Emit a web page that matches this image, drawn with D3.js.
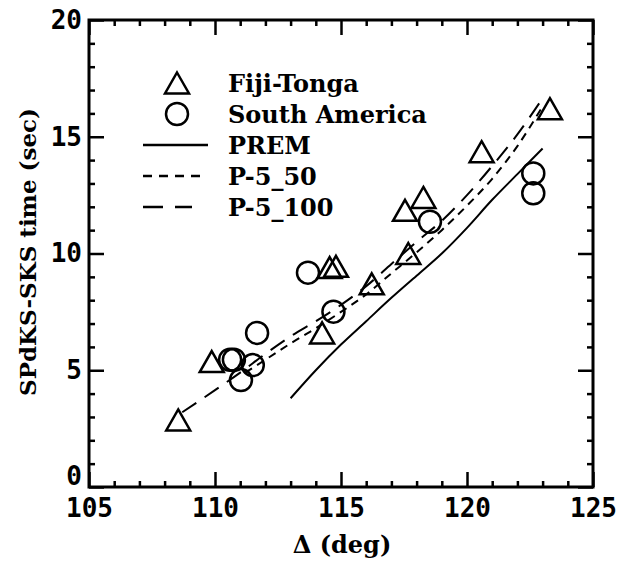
<!DOCTYPE html>
<html><head><meta charset="utf-8">
<script src="https://cdn.jsdelivr.net/npm/d3@7"></script>
<style>body{margin:0;background:#fff}svg{display:block}</style>
</head><body>
<svg id="c" width="618" height="562"></svg>
<script>
// Data
const fijiX = [108.54, 109.87, 114.25, 114.55, 114.8, 116.22, 117.54, 117.67, 118.27, 120.58, 123.29];
const fijiY = [2.87, 5.37, 6.6, 9.4, 9.45, 8.7, 11.85, 10.0, 12.4, 14.36, 16.2];
const saX = [110.6, 110.75, 111.03, 111.5, 111.67, 113.69, 114.7, 118.53, 122.63, 122.63];
const saY = [5.45, 5.45, 4.58, 5.22, 6.6, 9.18, 7.51, 11.36, 13.43, 12.58];
const premX = [113, 114, 115, 116, 117, 118, 119, 120, 121, 122, 123];
const premY = [3.8, 5.0, 6.1, 7.1, 8.1, 9.05, 10.0, 11.1, 12.3, 13.4, 14.5];
const p50X = [111.2, 112, 113, 114, 115, 116, 117, 118, 119, 120, 121, 122, 123];
const p50Y = [4.9, 5.45, 6.15, 6.8, 7.5, 8.25, 9.15, 10.05, 11.0, 12.05, 13.2, 14.6, 16.3];
const p100X = [108.7, 110, 111, 112, 113, 114, 115, 116, 117, 118, 119, 120, 121, 122, 123];
const p100Y = [3.2, 4.15, 4.9, 5.7, 6.45, 7.1, 7.8, 8.6, 9.55, 10.5, 11.4, 12.5, 13.75, 15.1, 16.65];
const xTicks = [105, 110, 115, 120, 125];
const yTicks = [0, 5, 10, 15, 20];
const legendLabels = ["Fiji-Tonga", "South America", "PREM", "P-5_50", "P-5_100"];

const svg = d3.select("#c");
const x = d3.scaleLinear().domain([105, 125]).range([89, 593]);
const y = d3.scaleLinear().domain([0, 20]).range([487, 20]);
const minorX = d3.range(105, 126, 1).filter(v => v % 5 !== 0);
const minorY = d3.range(0, 21, 1).filter(v => v % 5 !== 0);

const tickFont = "'DejaVu Sans Mono', monospace";
const serif = "'DejaVu Serif', serif";

function styleAxis(g) {
  g.select(".domain").remove();
  g.selectAll("line").attr("stroke", "#000").attr("stroke-width", 2.5);
  g.selectAll("text").attr("font-family", tickFont).attr("font-weight", "bold")
    .attr("font-size", 26).attr("fill", "#000");
}
// bottom
svg.append("g").attr("transform", "translate(0,487)")
  .call(d3.axisBottom(x).tickValues(xTicks).tickSize(-15).tickPadding(12).tickFormat(d3.format("d")))
  .call(styleAxis);
svg.append("g").attr("transform", "translate(0,487)")
  .call(d3.axisBottom(x).tickValues(minorX).tickSize(-6).tickFormat(""))
  .call(styleAxis);
// top
svg.append("g").attr("transform", "translate(0,20)")
  .call(d3.axisTop(x).tickValues(xTicks).tickSize(-15).tickFormat(""))
  .call(styleAxis);
svg.append("g").attr("transform", "translate(0,20)")
  .call(d3.axisTop(x).tickValues(minorX).tickSize(-6).tickFormat(""))
  .call(styleAxis);
// left
svg.append("g").attr("transform", "translate(89,0)")
  .call(d3.axisLeft(y).tickValues(yTicks).tickSize(-15).tickPadding(7).tickFormat(d3.format("d")))
  .call(styleAxis)
  .call(g => g.selectAll(".tick").filter(d => d === 0).select("text").attr("dy", "-0.1em"));
svg.append("g").attr("transform", "translate(89,0)")
  .call(d3.axisLeft(y).tickValues(minorY).tickSize(-6).tickFormat(""))
  .call(styleAxis);
// right
svg.append("g").attr("transform", "translate(593,0)")
  .call(d3.axisRight(y).tickValues(yTicks).tickSize(-15).tickFormat(""))
  .call(styleAxis);
svg.append("g").attr("transform", "translate(593,0)")
  .call(d3.axisRight(y).tickValues(minorY).tickSize(-6).tickFormat(""))
  .call(styleAxis);

// frame
svg.append("rect").attr("x", 89).attr("y", 20).attr("width", 504).attr("height", 467)
  .attr("fill", "none").attr("stroke", "#000").attr("stroke-width", 3);

// curves
const line = d3.line().x(d => x(d[0])).y(d => y(d[1])).curve(d3.curveMonotoneX);
function drawCurve(xs, ys, dash) {
  svg.append("path").datum(xs.map((v, i) => [v, ys[i]]))
    .attr("d", line).attr("fill", "none").attr("stroke", "#000")
    .attr("stroke-width", 2).attr("stroke-dasharray", dash);
}
drawCurve(premX, premY, null);
drawCurve(p50X, p50Y, "8,6");
drawCurve(p100X, p100Y, "17,10");

// markers
const tri = "M0,-10.5L12,10.5L-12,10.5Z";
svg.append("g").selectAll("path").data(fijiX.map((v, i) => [v, fijiY[i]])).join("path")
  .attr("d", tri).attr("transform", d => `translate(${x(d[0])},${y(d[1])})`)
  .attr("fill", "none").attr("stroke", "#000").attr("stroke-width", 2.5);
svg.append("g").selectAll("circle").data(saX.map((v, i) => [v, saY[i]])).join("circle")
  .attr("cx", d => x(d[0])).attr("cy", d => y(d[1])).attr("r", 11)
  .attr("fill", "none").attr("stroke", "#000").attr("stroke-width", 2.5);

// legend
const ly = [83, 114, 145, 176, 207];
const lg = svg.append("g");
lg.append("path").attr("d", tri).attr("transform", `translate(177,${ly[0]})`)
  .attr("fill", "none").attr("stroke", "#000").attr("stroke-width", 2.5);
lg.append("circle").attr("cx", 177).attr("cy", ly[1]).attr("r", 11)
  .attr("fill", "none").attr("stroke", "#000").attr("stroke-width", 2.5);
lg.append("line").attr("x1", 143).attr("x2", 208).attr("y1", ly[2]).attr("y2", ly[2])
  .attr("stroke", "#000").attr("stroke-width", 2.5);
lg.append("line").attr("x1", 143).attr("x2", 201).attr("y1", ly[3]).attr("y2", ly[3])
  .attr("stroke", "#000").attr("stroke-width", 2.5).attr("stroke-dasharray", "9,7");
lg.append("line").attr("x1", 143).attr("x2", 192).attr("y1", ly[4]).attr("y2", ly[4])
  .attr("stroke", "#000").attr("stroke-width", 2.5).attr("stroke-dasharray", "20,12");
lg.selectAll("text").data(legendLabels).join("text")
  .attr("x", 228).attr("y", (d, i) => ly[i]).attr("dy", "0.36em")
  .attr("font-family", serif).attr("font-weight", "bold").attr("font-size", 24)
  .text(d => d);

// axis titles
svg.append("text").attr("transform", "translate(36,252) rotate(-90)")
  .attr("text-anchor", "middle").attr("font-family", serif).attr("font-weight", "bold")
  .attr("font-size", 23).text("SPdKS-SKS time (sec)");
svg.append("text").attr("x", 342).attr("y", 553).attr("text-anchor", "middle")
  .attr("font-family", serif).attr("font-weight", "bold").attr("font-size", 24)
  .text("Δ  (deg)");
</script>
</body></html>
